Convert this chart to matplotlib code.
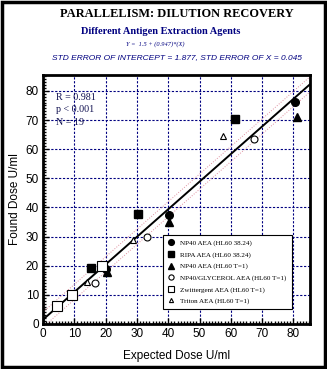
"""
Parallelism / dilution recovery scatter with regression line.
"""

import matplotlib.pyplot as plt
from matplotlib.patches import Rectangle
from matplotlib.ticker import MultipleLocator

SERIF = 'Liberation Serif'
SANS = 'Liberation Sans'
NAVY = '#000080'

# series: expected dose (x), found dose (y)
np40_x = [80.5, 40.3, 20.1]
np40_y = [76.3, 37.4, 19.0]
ripa_x = [15.2, 30.4, 61.3]
ripa_y = [19.3, 37.6, 70.2]
np40_t1_x = [81.0, 40.2, 20.3]
np40_t1_y = [71.1, 35.0, 17.8]
glyc_x = [16.6, 33.1, 67.4]
glyc_y = [14.2, 29.8, 63.4]
zwit_x = [4.6, 9.4, 18.9]
zwit_y = [6.1, 9.9, 19.8]
triton_x = [14.2, 28.6, 57.4]
triton_y = [14.4, 28.9, 64.6]

labels = [
    'NP40 AEA (HL60 38.24)',
    'RIPA AEA (HL60 38.24)',
    'NP40 AEA (HL60 T=1)',
    'NP40/GLYCEROL AEA (HL60 T=1)',
    'Zwittergent AEA (HL60 T=1)',
    'Triton AEA (HL60 T=1)',
]

intercept = 1.5
slope = 0.947
band = 2.6  # half-width of the dotted confidence lines
line_x = [0, 85.5]


def plot_chart():
    fig = plt.figure(figsize=(3.27, 3.69), dpi=100)
    fig.patches.append(Rectangle((0.006, 0.006), 0.988, 0.988, transform=fig.transFigure,
                                 fill=False, edgecolor='black', linewidth=2.5))

    fig.text(0.54, 0.963, 'PARALLELISM: DILUTION RECOVERY', ha='center', va='center',
             family=SERIF, fontweight='bold', fontsize=8.9)
    fig.text(0.49, 0.915, 'Different Antigen Extraction Agents', ha='center', va='center',
             family=SERIF, fontweight='bold', fontsize=7.5, color=NAVY)
    fig.text(0.475, 0.880, 'Y =  1.5 + (0.947)*(X)', ha='center', va='center',
             family=SERIF, style='italic', fontsize=4.6, color=NAVY)
    fig.text(0.54, 0.845, 'STD ERROR OF INTERCEPT = 1.877, STD ERROR OF X = 0.045',
             ha='center', va='center', family=SANS, style='italic', fontsize=6.0, color=NAVY)

    ax = fig.add_axes([0.1315, 0.122, 0.8165, 0.675])
    ax.set_xlim(0, 85.3)
    ax.set_ylim(0, 85.5)

    fit = [intercept + slope * x for x in line_x]
    ax.plot(line_x, [y + band for y in fit], color='#e090a0', lw=0.7, ls=':', zorder=2)
    ax.plot(line_x, [y - band for y in fit], color='#e090a0', lw=0.7, ls=':', zorder=2)
    ax.plot(line_x, fit, color='black', lw=1.4, zorder=3)

    ms = 5.5
    ax.plot(np40_x, np40_y, 'o', color='black', ms=ms, ls='none', label=labels[0], zorder=4)
    ax.plot(ripa_x, ripa_y, 's', color='black', ms=ms, ls='none', label=labels[1], zorder=4)
    ax.plot(np40_t1_x, np40_t1_y, '^', color='black', ms=ms, ls='none', label=labels[2], zorder=4)
    ax.plot(glyc_x, glyc_y, 'o', mfc='white', mec='black', mew=0.8, ms=ms - 0.5, ls='none',
            label=labels[3], zorder=4)
    ax.plot(zwit_x, zwit_y, 's', mfc='white', mec='black', mew=0.8, ms=ms + 1, ls='none',
            label=labels[4], zorder=4)
    ax.plot(triton_x, triton_y, '^', mfc='white', mec='black', mew=0.8, ms=ms - 1.5, ls='none',
            label=labels[5], zorder=4)

    ax.xaxis.set_major_locator(MultipleLocator(10))
    ax.yaxis.set_major_locator(MultipleLocator(10))
    ax.xaxis.set_minor_locator(MultipleLocator(1))
    ax.yaxis.set_minor_locator(MultipleLocator(1))
    ax.tick_params(which='both', direction='in', width=1.0, colors='black')
    ax.tick_params(which='major', length=4, labelsize=8.5, pad=3)
    ax.tick_params(which='minor', length=2.5)
    for lab in ax.get_xticklabels() + ax.get_yticklabels():
        lab.set_family(SANS)
    ax.grid(which='major', color=NAVY, ls=(0, (2, 1.5)), lw=0.8)
    for sp in ax.spines.values():
        sp.set_linewidth(2)

    ax.set_xlabel('Expected Dose U/ml', family=SANS, fontsize=8.5, labelpad=7)
    ax.set_ylabel('Found Dose U/ml', family=SANS, fontsize=8.5, labelpad=3)

    ax.text(0.05, 0.86, 'R = 0.981\np < 0.001\nN = 19', transform=ax.transAxes,
            family=SERIF, fontsize=7.2, color='#101050', va='center', linespacing=1.5)

    leg = ax.legend(loc='lower right', bbox_to_anchor=(0.945, 0.045), prop={'family': SERIF, 'size': 5.1},
                    frameon=True, fancybox=False, edgecolor='black', framealpha=1,
                    handlelength=0.8, handletextpad=0.9, labelspacing=0.75, borderpad=0.7,
                    markerscale=0.75)
    leg.get_frame().set_linewidth(0.8)

    fig.savefig('out.png', dpi=100)


if __name__ == '__main__':
    plot_chart()
